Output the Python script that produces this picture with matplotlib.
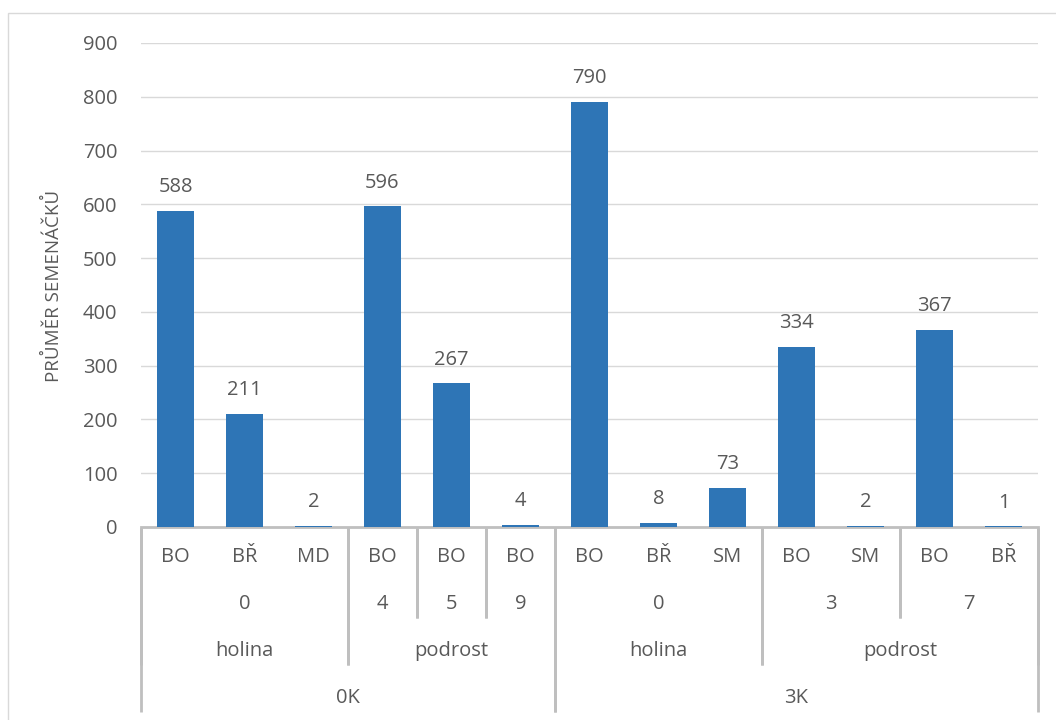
import matplotlib.pyplot as plt
from matplotlib.patches import Rectangle
from matplotlib.transforms import blended_transform_factory

# data
species = ['BO', 'BŘ', 'MD', 'BO', 'BO', 'BO', 'BO', 'BŘ', 'SM', 'BO', 'SM', 'BO', 'BŘ']
values = [588, 211, 2, 596, 267, 4, 790, 8, 73, 334, 2, 367, 1]
# (label, first index, count) for each grouping level
level2 = [('0', 0, 3), ('4', 3, 1), ('5', 4, 1), ('9', 5, 1),
          ('0', 6, 3), ('3', 9, 2), ('7', 11, 2)]
level3 = [('holina', 0, 3), ('podrost', 3, 3), ('holina', 6, 3), ('podrost', 9, 4)]
level4 = [('0K', 0, 6), ('3K', 6, 7)]

plt.rcParams['font.family'] = ['Open Sans', 'DejaVu Sans']
txt = '#595959'
line_c = '#BFBFBF'
fs = 14.5

fig = plt.figure(figsize=(10.56, 7.2), dpi=100)
W, H = 1056, 720
left, right, top, base = 141, 1038, 43, 527
ax = fig.add_axes([left / W, 1 - base / H, (right - left) / W, (base - top) / H])

x = range(len(values))
ax.bar(x, values, width=0.55, color='#2E75B6', zorder=3)
for i, v in enumerate(values):
    ax.annotate(str(v), (i, v), xytext=(0, 10), textcoords='offset points',
                ha='center', va='bottom', fontsize=fs, color=txt)

ax.set_xlim(-0.5, len(values) - 0.5)
ax.set_ylim(0, 900)
ax.set_yticks(range(0, 901, 100))
ax.tick_params(axis='y', length=0, labelsize=fs, labelcolor=txt, pad=17)
ax.set_xticks([])
ax.grid(axis='y', color='#D9D9D9', linewidth=1, zorder=0)
for s in ['top', 'right', 'left']:
    ax.spines[s].set_visible(False)
ax.spines['bottom'].set_color(line_c)
ax.spines['bottom'].set_linewidth(2)

ax.set_ylabel('PRŮMĚR SEMENÁČKŮ', fontsize=13.5, color=txt)
ax.yaxis.set_label_coords((63 - left) / (right - left), (base - 286) / (base - top))

tr = blended_transform_factory(ax.transData, fig.transFigure)


def fy(p):
    return 1 - p / H


for i, s in enumerate(species):
    ax.text(i, fy(557), s, transform=tr, ha='center', va='center',
            fontsize=fs, color=txt)

levels = [(level2, 604, 618), (level3, 651, 665), (level4, 698, 712)]
for groups, ty, bottom in levels:
    for lab, start, n in groups:
        ax.text(start + (n - 1) / 2, fy(ty), lab, transform=tr, ha='center',
                va='center', fontsize=fs, color=txt)
        for edge in (start - 0.5, start + n - 0.5):
            ax.plot([edge, edge], [fy(528), fy(bottom)], transform=tr,
                    color=line_c, linewidth=2, clip_on=False,
                    solid_capstyle='butt')

fig.patches.append(Rectangle((8 / W, -0.01), 1.0, fy(13) + 0.01,
                             transform=fig.transFigure, fill=False,
                             edgecolor='#D9D9D9', linewidth=1))

fig.savefig('out.png', dpi=100)
